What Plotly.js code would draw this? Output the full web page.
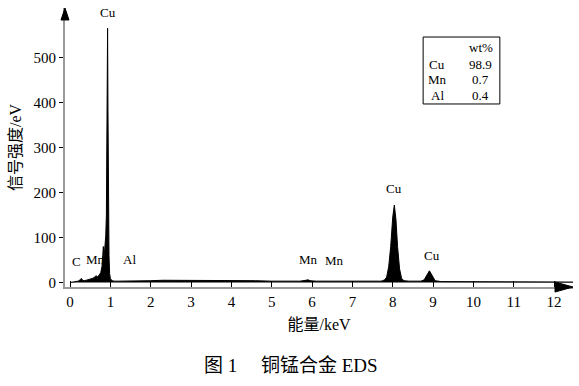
<!DOCTYPE html>
<html>
<head>
<meta charset="utf-8">
<script src="https://cdn.plot.ly/plotly-3.0.1.min.js"></script>
<style>html,body{margin:0;padding:0;background:#fff;}#chart{width:579px;height:386px;}</style>
</head>
<body>
<div id="chart"></div>
<script>
// Spectrum: energy (keV) and signal intensity
const energy = [0.0,0.05,0.1,0.15,0.2,0.25,0.28,0.31,0.35,0.4,0.45,0.5,0.55,0.6,0.64,0.68,0.72,0.76,0.79,0.81,0.825,0.84,0.855,0.87,0.885,0.9,0.91,0.92,0.93,0.94,0.945,0.955,0.965,0.98,1.0,1.05,1.1,1.2,1.3,1.45,1.49,1.55,1.7,2.0,2.3,2.6,3.0,3.4,3.8,4.2,4.6,5.0,5.4,5.7,5.85,5.9,5.95,6.1,6.4,6.5,6.6,7.0,7.4,7.7,7.75,7.8,7.85,7.9,7.95,8.0,8.04,8.08,8.12,8.17,8.22,8.28,8.4,8.6,8.7,8.78,8.83,8.88,8.91,8.95,9.0,9.05,9.2,9.6,10.0,10.5,11.0,11.5,12.0,12.5];
const counts = [0,1,2,2,3,6,9,5,4,5,6,8,9,11,15,13,16,22,35,60,80,52,70,90,105,150,250,420,565,380,230,120,60,20,8,4,3,3,3,3,4,3,3,4,5,5,5,5,4,4,4,3,3,3,5,6,4,3,3,3,3,2,2,3,4,6,12,35,80,145,172,140,80,30,9,4,3,2,3,6,14,24,26,20,10,4,2,2,2,2,1,1,1,1];

// Peak labels
const peakLabels = ["Cu","C","Mn","Al","Mn","Mn","Cu","Cu"];
const peakX = [0.95,0.15,0.62,1.48,5.92,6.55,8.02,8.97];
const peakY = [578,26,29,29,29,27,188,40];

// Composition table
const elements = ["Cu","Mn","Al"];
const wtPercent = ["98.9","0.7","0.4"];

const serif = "'Liberation Serif', 'Times New Roman', 'Noto Sans CJK SC', serif";

const trace = {
  x: energy, y: counts, type: "scatter", mode: "lines",
  line: {color: "#000", width: 1}, fill: "tozeroy", fillcolor: "#000",
  hoverinfo: "x+y"
};

const annotations = [];
for (let i = 0; i < peakLabels.length; i++) {
  annotations.push({x: peakX[i], y: peakY[i], xref: "x", yref: "y", text: peakLabels[i],
    showarrow: false, xanchor: "center", yanchor: "bottom",
    font: {family: serif, size: 13, color: "#000"}});
}
// table text
const rowY = [0.799, 0.742, 0.685];
annotations.push({x: 0.819, y: 0.860, xref: "paper", yref: "paper", text: "wt%", showarrow: false,
  xanchor: "center", yanchor: "middle", font: {family: serif, size: 13, color: "#000"}});
for (let i = 0; i < elements.length; i++) {
  annotations.push({x: 0.733, y: rowY[i], xref: "paper", yref: "paper", text: elements[i], showarrow: false,
    xanchor: "center", yanchor: "middle", font: {family: serif, size: 13, color: "#000"}});
  annotations.push({x: 0.818, y: rowY[i], xref: "paper", yref: "paper", text: wtPercent[i], showarrow: false,
    xanchor: "center", yanchor: "middle", font: {family: serif, size: 13, color: "#000"}});
}
// caption
annotations.push({x: 0.445, y: -0.283, xref: "paper", yref: "paper", text: "图 1　 铜锰合金 EDS", showarrow: false,
  xanchor: "center", yanchor: "middle", font: {family: serif, size: 19, color: "#000"}});

const layout = {
  width: 579, height: 386,
  margin: {l: 64.5, r: 6, t: 8, b: 99},
  paper_bgcolor: "#fff", plot_bgcolor: "#fff",
  showlegend: false,
  xaxis: {
    range: [-0.126, 12.47], tickvals: [0,1,2,3,4,5,6,7,8,9,10,11,12],
    ticks: "inside", ticklen: 6, tickcolor: "#000", tickwidth: 1,
    showline: true, linecolor: "#999", linewidth: 2, showgrid: false, zeroline: false,
    tickfont: {family: serif, size: 15, color: "#000"},
    title: {text: "能量/keV", font: {family: serif, size: 16, color: "#000"}, standoff: 10}
  },
  yaxis: {
    range: [-10, 610], tickvals: [0,100,200,300,400,500],
    ticks: "outside", ticklen: 4, tickcolor: "#000", tickwidth: 1,
    showline: true, linecolor: "#999", linewidth: 2, showgrid: false, zeroline: false,
    tickfont: {family: serif, size: 15, color: "#000"},
    title: {text: "信号强度/eV", font: {family: serif, size: 16, color: "#000"}, standoff: 8}
  },
  shapes: [
    {type: "rect", xref: "paper", yref: "paper", x0: 0.705, x1: 0.856, y0: 0.656, y1: 0.896,
     line: {color: "#000", width: 1}},
    {type: "path", xref: "paper", yref: "paper", path: "M -0.0079,0.957 L 0.0079,0.957 L 0,1.0 Z",
     fillcolor: "#000", line: {color: "#000", width: 1}},
    {type: "path", xref: "paper", yref: "paper", path: "M 0.9646,0.018 L 0.9646,-0.018 L 1.0,0 Z",
     fillcolor: "#000", line: {color: "#000", width: 1}}
  ],
  annotations: annotations
};

Plotly.newPlot("chart", [trace], layout, {displayModeBar: false, staticPlot: true});
</script>
</body>
</html>
